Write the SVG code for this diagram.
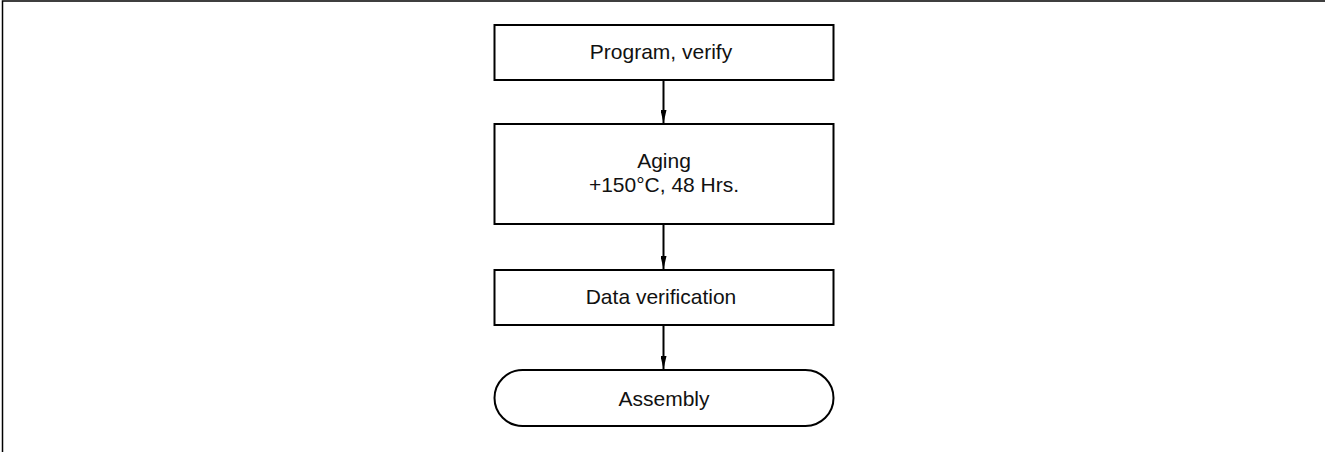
<svg xmlns="http://www.w3.org/2000/svg" width="1325" height="452" viewBox="0 0 1325 452">
<style>
.box{fill:#fff;stroke:#000;stroke-width:2}
.t{font-family:"Liberation Sans",Arial,sans-serif;font-size:21px;fill:#111;text-anchor:middle}
.c{stroke:#000;stroke-width:2;fill:none}
</style>
<defs>
<marker id="ah" markerUnits="userSpaceOnUse" markerWidth="13" markerHeight="6" refX="13" refY="3" orient="auto" viewBox="0 0 13 6">
<path d="M0,0 L13,3 L0,6 Z" fill="#000"/>
</marker>
</defs>
<rect x="0" y="0" width="1325" height="452" fill="#fff"/>
<path d="M2.5,452 V1 H1325" fill="none" stroke="#000" stroke-width="1.5"/>
<g id="n1">
<rect class="box" x="494.5" y="25" width="339" height="55"/>
<text class="t" x="661" y="58.5">Program, verify</text>
</g>
<g id="n2">
<rect class="box" x="494.5" y="124" width="339" height="100"/>
<text class="t" x="664" y="168">Aging</text>
<text class="t" x="664" y="192">+150°C, 48 Hrs.</text>
</g>
<g id="n3">
<rect class="box" x="494.5" y="270" width="339" height="55"/>
<text class="t" x="661" y="304">Data verification</text>
</g>
<g id="n4">
<rect class="box" x="494.5" y="370" width="339" height="56" rx="28" ry="28"/>
<text class="t" x="664" y="406">Assembly</text>
</g>
<g id="connectors">
<line class="c" x1="663.5" y1="81" x2="663.5" y2="123" marker-end="url(#ah)"/>
<line class="c" x1="663.5" y1="225" x2="663.5" y2="269" marker-end="url(#ah)"/>
<line class="c" x1="663.5" y1="326" x2="663.5" y2="369" marker-end="url(#ah)"/>
</g>
</svg>
